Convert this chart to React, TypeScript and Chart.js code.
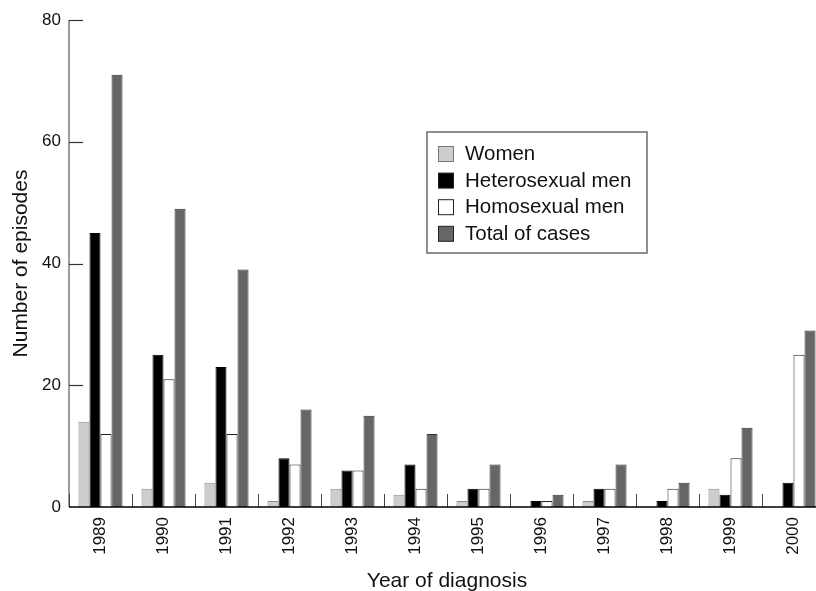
import React, { useEffect, useRef } from "react";
import { Chart, registerables } from "chart.js";

Chart.register(...registerables);

const years = ["1989", "1990", "1991", "1992", "1993", "1994", "1995", "1996", "1997", "1998", "1999", "2000"];
const seriesNames = ["Women", "Heterosexual men", "Homosexual men", "Total of cases"];
const women = [14, 3, 4, 1, 3, 2, 1, 0, 1, 0, 3, 0];
const heteroMen = [45, 25, 23, 8, 6, 7, 3, 1, 3, 1, 2, 4];
const homoMen = [12, 21, 12, 7, 6, 3, 3, 1, 3, 3, 8, 25];
const totalCases = [71, 49, 39, 16, 15, 12, 7, 2, 7, 4, 13, 29];
const yTicks = [0, 20, 40, 60, 80];

const fills = ["#cdcdcd", "#000000", "#ffffff", "#666666"];
const borders = ["#8a8a8a", "#000000", "#222222", "#333333"];
const FONT = "'Liberation Sans', Arial, sans-serif";

const decorPlugin = {
  id: "decor",
  afterDatasetsDraw(chart: any) {
    const { ctx, chartArea } = chart;
    const x = chart.scales.x;
    const y = chart.scales.y;
    const left = chartArea.left;
    const bottom = chartArea.bottom;
    ctx.save();
    // y axis line
    ctx.strokeStyle = "#7a7a7a";
    ctx.lineWidth = 1.5;
    ctx.beginPath();
    ctx.moveTo(left, y.getPixelForValue(80));
    ctx.lineTo(left, bottom);
    ctx.stroke();
    // inward y ticks
    ctx.strokeStyle = "#333333";
    ctx.lineWidth = 1.2;
    yTicks.forEach((v) => {
      if (v === 0) return;
      const py = Math.round(y.getPixelForValue(v)) + 0.5;
      ctx.beginPath();
      ctx.moveTo(left, py);
      ctx.lineTo(left + 14, py);
      ctx.stroke();
    });
    // group separators
    const n = years.length;
    const gw = x.getPixelForValue(1) - x.getPixelForValue(0);
    ctx.strokeStyle = "#444444";
    ctx.lineWidth = 1;
    for (let i = 0; i <= n; i++) {
      const px = Math.round(x.getPixelForValue(0) - gw / 2 + i * gw) + 0.5;
      ctx.beginPath();
      ctx.moveTo(px, bottom - 13);
      ctx.lineTo(px, bottom);
      ctx.stroke();
    }
    // baseline
    ctx.strokeStyle = "#000000";
    ctx.lineWidth = 1.5;
    ctx.beginPath();
    ctx.moveTo(left, bottom);
    ctx.lineTo(chartArea.right, bottom);
    ctx.stroke();

    // legend
    const bx = 427, by = 132, bw = 220, bh = 121;
    ctx.strokeStyle = "#6a6a6a";
    ctx.lineWidth = 1.5;
    ctx.fillStyle = "#ffffff";
    ctx.fillRect(bx, by, bw, bh);
    ctx.strokeRect(bx, by, bw, bh);
    ctx.font = `20.5px ${FONT}`;
    ctx.textBaseline = "middle";
    ctx.textAlign = "left";
    seriesNames.forEach((name, i) => {
      const cy = 153.5 + i * 26.6;
      ctx.fillStyle = fills[i];
      ctx.fillRect(438.5, cy - 7, 15, 15);
      ctx.strokeStyle = i === 0 ? "#777777" : "#222222";
      ctx.lineWidth = 1;
      ctx.strokeRect(438.5, cy - 7, 15, 15);
      ctx.fillStyle = "#111111";
      ctx.fillText(name, 465, cy + 1);
    });
    ctx.restore();
  },
};

export default function App() {
  const ref = useRef<HTMLCanvasElement | null>(null);
  useEffect(() => {
    if (!ref.current) return;
    const data = [women, heteroMen, homoMen, totalCases];
    const chart = new Chart(ref.current, {
      type: "bar",
      data: {
        labels: years,
        datasets: seriesNames.map((name, i) => ({
          label: name,
          data: data[i],
          backgroundColor: fills[i],
          borderColor: borders[i],
          borderWidth: 1,
          borderSkipped: "bottom" as const,
          categoryPercentage: 0.7,
          barPercentage: 1.0,
        })),
      },
      options: {
        animation: false,
        responsive: false,
        layout: { padding: { top: 20, right: 10, left: 0, bottom: 0 } },
        plugins: {
          legend: { display: false },
          tooltip: { enabled: false },
        },
        scales: {
          x: {
            offset: true,
            grid: { display: false, drawTicks: false },
            border: { display: false },
            ticks: {
              minRotation: 90,
              maxRotation: 90,
              padding: 10,
              color: "#111111",
              font: { family: FONT, size: 17 },
            },
            title: {
              display: true,
              text: "Year of diagnosis",
              color: "#111111",
              font: { family: FONT, size: 21, lineHeight: 1 },
              padding: { top: 0, bottom: -1 },
            },
            afterFit: (s: any) => {
              s.height = 591 - 507;
            },
          },
          y: {
            min: 0,
            max: 80,
            grid: { display: false, drawTicks: false },
            border: { display: false },
            ticks: {
              stepSize: 20,
              padding: 8,
              color: "#111111",
              font: { family: FONT, size: 17 },
            },
            title: {
              display: true,
              text: "Number of episodes",
              color: "#111111",
              font: { family: FONT, size: 21 },
              padding: { top: 9, bottom: 0 },
            },
            afterFit: (s: any) => {
              s.width = 69;
            },
          },
        },
      },
      plugins: [decorPlugin],
    });
    return () => chart.destroy();
  }, []);
  return (
    <div style={{ position: "fixed", left: 0, top: 0, width: 816, height: 591, overflow: "hidden", background: "#fff" }}>
      <canvas ref={ref} width={835} height={591} style={{ display: "block", width: 835, height: 591 }} />
    </div>
  );
}
